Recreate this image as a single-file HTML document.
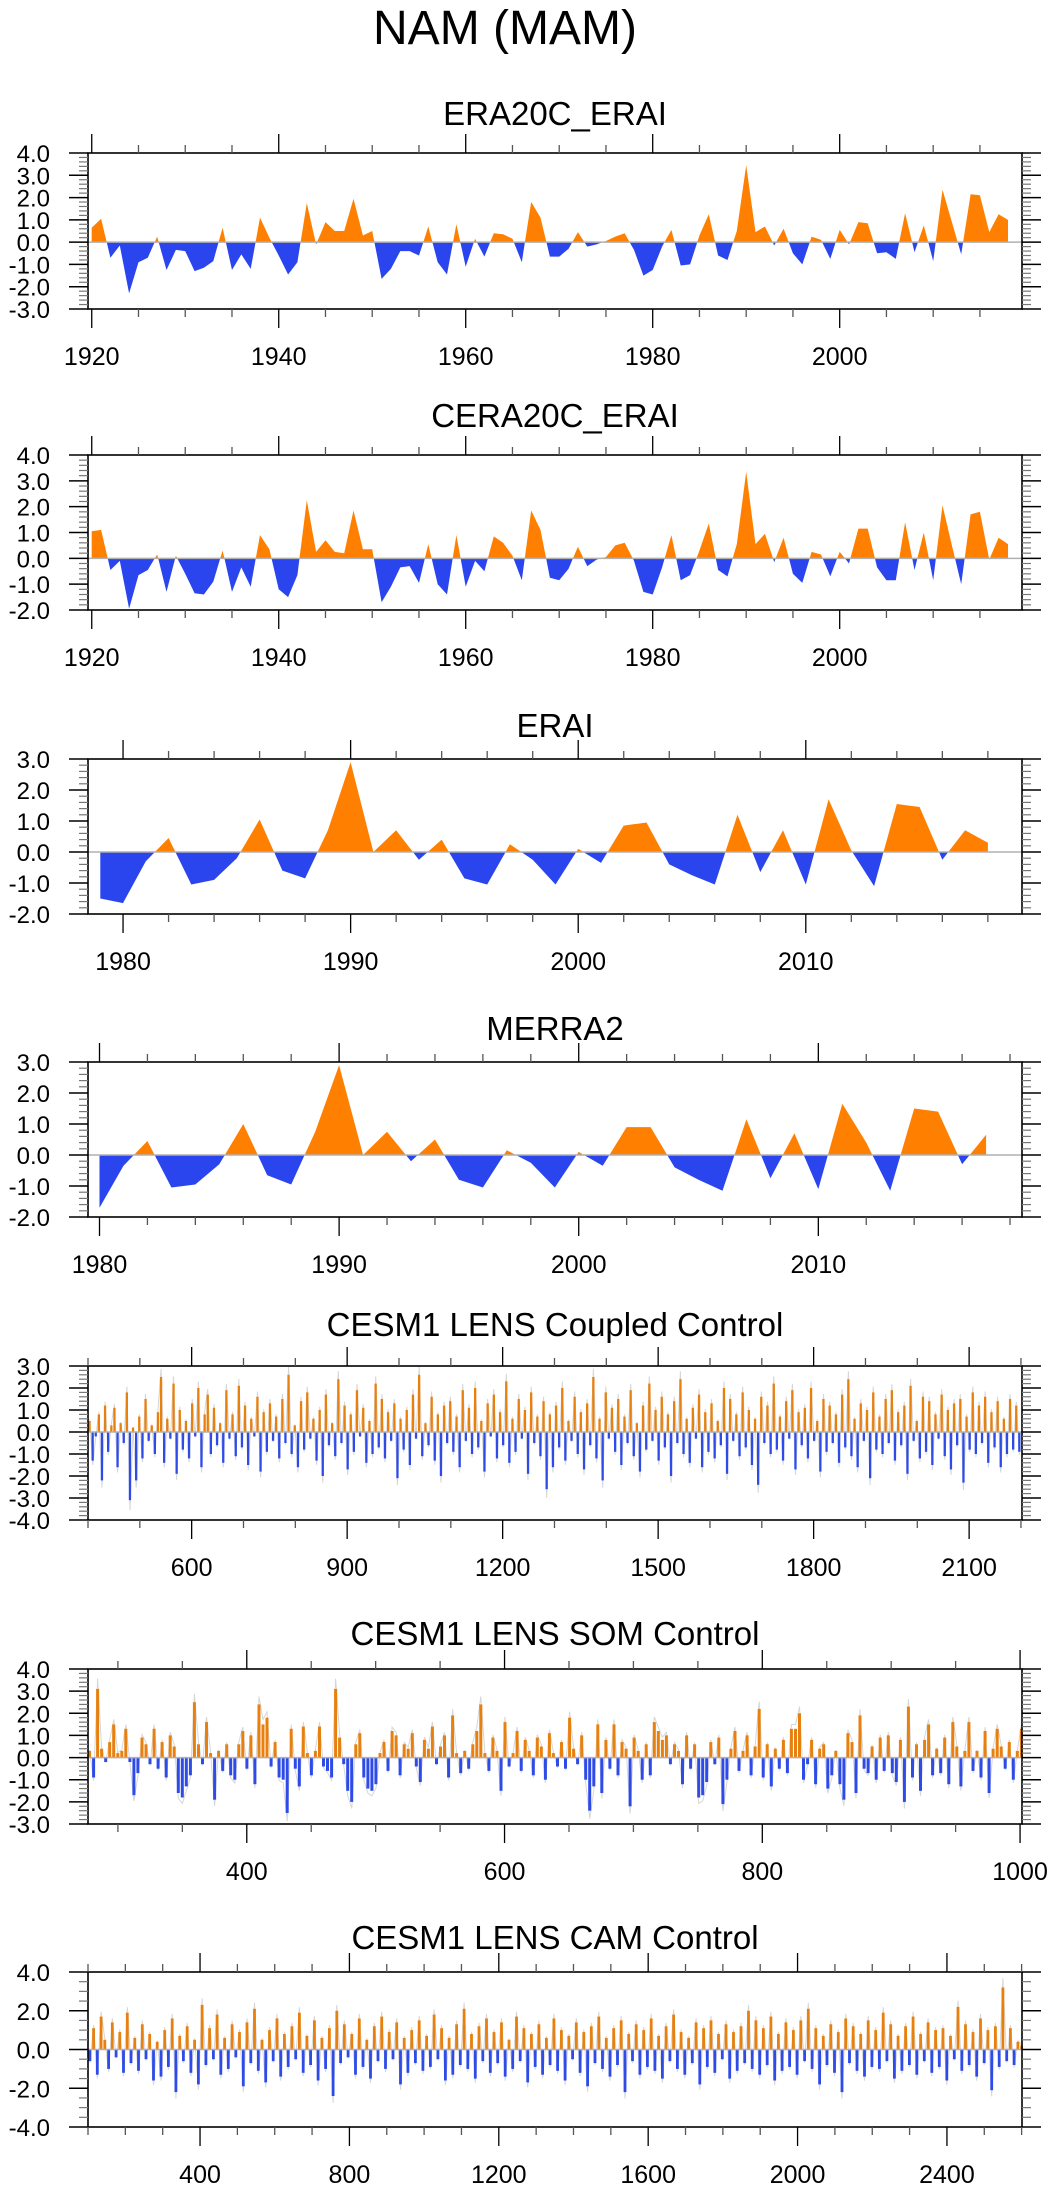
<!DOCTYPE html>
<html><head><meta charset="utf-8"><style>
html,body{margin:0;padding:0;background:#fff;}
svg{display:block;font-family:"Liberation Sans",sans-serif;}
</style></head><body>
<svg id="chart" width="1049" height="2191" viewBox="0 0 1049 2191" xmlns="http://www.w3.org/2000/svg">
<text x="505" y="44" font-size="48" text-anchor="middle">NAM (MAM)</text>
</svg>
<script>
// ---- data ----
const years1 = Array.from({length:99},(_, i)=>1920+i);
const era20cErai = [0.65,1.05,-0.7,-0.15,-2.3,-0.9,-0.7,0.25,-1.25,-0.35,-0.4,-1.3,-1.15,-0.85,0.65,-1.25,-0.55,-1.2,1.1,0.2,-0.6,-1.45,-0.9,1.75,-0.1,0.9,0.5,0.5,1.95,0.3,0.5,-1.65,-1.2,-0.4,-0.4,-0.6,0.7,-0.9,-1.45,0.8,-1.1,0.15,-0.65,0.4,0.35,0.15,-0.9,1.8,1.1,-0.65,-0.65,-0.3,0.45,-0.2,-0.1,0.05,0.25,0.4,-0.35,-1.5,-1.25,-0.2,0.55,-1.05,-1.0,0.3,1.25,-0.6,-0.8,0.5,3.45,0.45,0.7,-0.15,0.6,-0.5,-1.0,0.25,0.1,-0.75,0.55,-0.1,0.9,0.85,-0.5,-0.45,-0.75,1.3,-0.45,0.75,-0.85,2.35,0.9,-0.55,2.15,2.1,0.45,1.25,1.0];
const cera20cErai = [1.05,1.1,-0.45,-0.1,-1.95,-0.65,-0.45,0.15,-1.3,0.1,-0.6,-1.35,-1.4,-0.9,0.3,-1.3,-0.35,-1.1,0.9,0.35,-1.2,-1.5,-0.65,2.25,0.25,0.7,0.25,0.2,1.85,0.35,0.35,-1.7,-1.1,-0.35,-0.3,-0.95,0.55,-1.0,-1.4,0.9,-1.1,-0.1,-0.5,0.85,0.6,0.1,-0.85,1.85,1.1,-0.75,-0.85,-0.4,0.45,-0.3,-0.05,0.05,0.5,0.6,-0.1,-1.3,-1.4,-0.35,0.9,-0.85,-0.65,0.3,1.35,-0.45,-0.7,0.55,3.35,0.55,0.95,-0.15,0.8,-0.6,-0.95,0.25,0.15,-0.7,0.25,-0.2,1.15,1.15,-0.35,-0.85,-0.85,1.4,-0.45,1.0,-0.85,2.05,0.5,-1.0,1.7,1.8,-0.05,0.8,0.55];
const yearsErai = Array.from({length:40},(_, i)=>1979+i);
const erai = [-1.5,-1.65,-0.3,0.45,-1.05,-0.9,-0.2,1.05,-0.6,-0.85,0.7,2.9,0.0,0.7,-0.25,0.4,-0.85,-1.05,0.25,-0.25,-1.05,0.1,-0.35,0.85,0.95,-0.4,-0.75,-1.05,1.2,-0.65,0.7,-1.05,1.7,0.05,-1.1,1.55,1.45,-0.25,0.7,0.3];
const yearsMerra = Array.from({length:38},(_, i)=>1980+i);
const merra2 = [-1.7,-0.35,0.45,-1.05,-0.95,-0.3,1.0,-0.65,-0.95,0.75,2.9,0.0,0.75,-0.2,0.5,-0.8,-1.05,0.15,-0.25,-1.05,0.1,-0.35,0.9,0.9,-0.4,-0.8,-1.15,1.15,-0.75,0.7,-1.1,1.65,0.4,-1.15,1.5,1.4,-0.3,0.65];
const coupled = [0.5,-1.3,-0.2,0.8,-2.2,1.2,-0.9,0.3,1.1,-1.6,0.4,-0.5,1.8,-3.1,0.2,-2.2,0.7,-1.2,1.5,-0.4,
0.3,-1.0,0.9,2.5,-1.4,0.6,-0.3,2.2,-1.9,1.0,-0.8,0.5,-1.2,1.3,-0.2,2.0,-1.6,0.8,1.7,-1.0,
1.1,-0.6,0.4,-1.4,1.9,-0.3,0.8,-1.1,2.1,-0.7,1.2,-1.5,0.6,-0.2,1.6,-1.8,0.9,-0.9,1.3,-0.4,
0.7,-1.2,1.5,-0.5,2.6,-1.0,0.3,-1.6,1.4,-0.8,1.8,-0.3,0.6,-1.3,1.0,-2.0,1.7,-0.6,0.4,-1.1,
2.4,-0.5,1.2,-1.7,0.8,-0.9,1.9,-0.2,1.1,-1.4,0.5,-1.0,2.2,-0.7,1.5,-1.2,0.9,-0.4,1.3,-2.1,
0.6,-0.8,1.0,-1.5,1.7,-0.3,2.6,-1.1,0.4,-0.6,1.6,-1.3,0.8,-2.0,1.2,-0.5,1.4,-0.9,0.7,-1.6,
1.9,-0.4,1.1,-1.0,2.0,-0.7,0.5,-1.8,1.3,-0.2,1.7,-1.2,0.9,-0.6,2.3,-1.4,0.6,-0.9,1.5,-0.3,
1.0,-1.9,1.8,-0.5,0.7,-1.1,1.4,-2.6,0.8,-1.6,1.2,-0.7,2.0,-1.3,0.5,-0.4,1.6,-1.0,0.9,-1.7,
1.3,-0.6,2.5,-1.2,0.6,-2.2,1.8,-0.3,1.1,-0.9,1.5,-1.5,0.7,-0.5,1.9,-1.1,0.4,-1.8,1.2,-0.8,
2.2,-0.4,1.0,-1.3,1.6,-0.7,0.8,-2.0,1.4,-0.5,2.4,-1.0,0.6,-1.4,1.1,-0.3,1.7,-1.6,0.9,-0.9,
1.3,-1.2,0.5,-0.6,2.0,-1.9,1.5,-0.4,0.8,-1.1,1.8,-0.7,1.0,-1.5,0.6,-2.4,1.6,-0.5,1.2,-1.0,
2.2,-0.8,0.7,-1.3,1.4,-0.3,1.9,-1.7,0.9,-0.6,1.1,-1.2,2.0,-0.4,0.5,-1.8,1.5,-0.9,1.2,-0.5,
0.8,-1.4,1.7,-0.7,2.4,-1.1,0.6,-1.6,1.3,-0.4,1.0,-2.1,1.8,-0.8,0.7,-1.0,1.5,-0.5,1.9,-1.3,
0.9,-0.6,1.2,-1.9,2.1,-0.4,0.5,-1.2,1.6,-0.9,1.4,-1.5,0.8,-0.3,1.7,-1.1,1.0,-1.7,1.3,-0.6,
1.5,-2.3,0.7,-0.8,1.8,-1.0,1.2,-0.5,1.6,-1.4,0.9,-0.7,1.4,-1.6,0.6,-1.0,1.5,-0.8,1.2,-0.9];
const yearsCoupled = coupled.map((_, i)=>403+i*6);
const som = [0.3,-0.9,3.1,0.4,-0.2,0.7,1.5,0.2,0.3,1.3,-0.2,-1.7,-0.7,0.9,0.6,-0.3,1.3,-0.5,0.7,-0.9,
1.0,0.5,-1.6,-1.8,-1.3,-0.8,2.5,0.6,-0.3,1.6,0.2,-1.9,0.3,-0.6,0.6,-0.8,-1.0,0.6,1.2,-0.5,
1.0,-1.2,2.4,1.5,1.8,-0.4,0.7,-0.9,-1.0,-2.5,1.3,-0.5,-1.3,1.4,0.2,-0.8,0.3,1.4,-0.4,-0.6,
-0.9,3.1,0.9,-0.3,-1.5,-2.0,0.6,1.1,-0.9,-1.4,-1.5,-1.2,0.2,0.7,-0.6,1.2,1.0,-0.8,0.6,0.4,
1.1,-0.4,-1.1,0.8,0.4,1.4,-0.3,0.5,1.0,-0.9,1.9,0.2,-0.7,0.3,-0.5,0.6,1.2,2.4,0.2,-0.6,
0.9,0.3,-1.5,1.6,-0.4,0.2,1.2,-0.6,0.8,0.3,-0.8,0.9,0.5,-1.0,1.1,0.2,-0.4,0.7,-0.5,1.8,
0.4,-0.3,1.0,-1.0,-2.4,-1.3,1.5,-1.6,0.8,-0.5,1.5,-0.8,0.7,0.4,-2.2,0.9,0.3,-1.0,0.6,-0.8,
1.6,1.2,0.8,1.0,-0.3,0.6,0.3,-1.2,1.0,-0.5,0.6,-1.8,-1.7,-1.1,0.7,-0.3,0.9,-2.1,-1.0,0.4,
1.2,-0.6,0.3,1.0,-0.8,0.5,2.2,-0.9,0.6,-1.3,0.4,-0.5,0.8,-0.7,1.3,1.3,2.0,-1.0,-0.3,0.8,
-1.2,0.4,0.6,-1.4,-0.8,0.3,-1.2,-1.9,1.1,0.7,-1.6,1.9,-0.5,-0.7,0.5,-1.0,0.9,-0.6,1.0,-0.7,
-1.1,0.8,-2.0,2.3,-0.9,0.6,-1.5,0.8,1.5,-0.8,0.4,-0.7,0.9,-1.2,1.6,0.5,-1.3,0.3,1.6,-0.6,
0.3,-0.9,1.2,-1.6,0.4,1.3,0.5,-0.5,0.7,-1.0,0.3,1.3];
const yearsSom = som.map((_, i)=>278+i*3.13);
const cam = [-0.6,1.1,-1.3,1.7,0.5,-1.0,1.4,-0.4,0.9,-1.2,1.9,-0.7,0.6,-1.1,1.3,-0.5,0.8,-1.6,0.4,-1.4,
1.0,-0.9,1.6,-2.2,0.7,-0.6,1.2,-1.2,0.5,-1.8,2.3,-0.8,1.1,-0.5,1.8,-1.3,0.6,-1.0,1.3,-0.4,
0.9,-1.9,1.4,-0.7,2.1,-1.1,0.5,-1.7,1.0,-0.6,1.6,-1.4,0.8,-0.9,1.2,-0.5,1.9,-1.2,0.7,-0.8,
1.5,-1.6,0.6,-1.0,1.1,-2.4,2.0,-0.7,1.3,-0.4,0.8,-1.3,1.6,-0.9,0.5,-1.5,1.2,-0.6,1.7,-1.0,
0.9,-0.5,1.4,-1.8,0.6,-1.2,1.0,-0.7,1.5,-1.1,0.7,-0.9,1.8,-0.5,1.1,-1.6,0.6,-1.3,1.3,-0.8,
2.1,-1.0,0.8,-1.5,1.2,-0.6,1.6,-1.2,0.9,-0.7,1.4,-1.4,0.5,-1.0,1.7,-0.6,1.1,-1.7,0.8,-0.9,
1.3,-1.3,0.6,-0.8,1.6,-1.1,1.0,-1.6,0.7,-0.5,1.4,-1.2,0.9,-1.9,1.2,-0.7,1.7,-1.0,0.6,-1.4,
1.1,-0.8,1.5,-2.2,0.8,-0.6,1.3,-1.3,1.0,-0.9,1.6,-1.1,0.7,-1.5,1.2,-0.6,1.8,-1.0,0.9,-1.3,
0.6,-0.7,1.4,-1.8,1.1,-0.9,1.5,-1.2,0.8,-0.5,1.3,-1.5,0.9,-1.1,1.2,-0.7,2.0,-1.0,1.5,-1.3,
1.1,-0.8,1.7,-1.6,0.8,-1.1,1.4,-0.9,1.0,-1.3,1.5,-0.6,2.1,-1.0,1.1,-1.8,0.7,-0.8,1.3,-1.2,
0.9,-2.2,1.6,-0.7,1.2,-1.1,0.8,-1.4,1.5,-0.9,1.0,-1.0,1.9,-0.6,1.3,-1.5,0.7,-1.1,1.2,-0.8,
1.7,-1.3,0.8,-0.6,1.4,-1.2,1.0,-0.9,1.1,-1.6,0.7,-0.5,2.2,-1.1,1.3,-0.8,0.9,-1.4,1.6,-0.7,
1.0,-2.1,1.2,-0.9,3.2,-0.6,1.1,-0.8,0.4,0.2];
const yearsCam = cam.map((_, i)=>105+i*(2495/(cam.length-1)));
// tick label arrays
const yTicksA = ["-4.0","-3.0","-2.0","-1.0","0.0","1.0","2.0","3.0","4.0"];
const xTicks1 = [1920,1940,1960,1980,2000];
const xTicksDec = [1980,1990,2000,2010];
const xTicksCoupled = [600,900,1200,1500,1800,2100];
const xTicksSom = [400,600,800,1000];
const xTicksCam = [400,800,1200,1600,2000,2400];

const NS = "http://www.w3.org/2000/svg";
const svg = document.getElementById('chart');
const L = 88, R = 1022;
const ORANGE = "#ff8000", BLUE = "#2a45ee";

function mk(tag, attrs, parent){
  const e = document.createElementNS(NS, tag);
  for (const k in attrs) e.setAttribute(k, attrs[k]);
  (parent||svg).appendChild(e);
  return e;
}

function panel(cfg){
  const g = mk('g', {});
  
  
  const X = v => L + (v - cfg.xmin) / (cfg.xmax - cfg.xmin) * (R - L);
  const Y = v => cfg.bottom - (v - cfg.ymin) / (cfg.ymax - cfg.ymin) * (cfg.bottom - cfg.top);
  const t = mk('text', {x:555, y:cfg.titleY, 'font-size':33, 'text-anchor':'middle'}, g);
  t.textContent = cfg.title;
  
  
  const y0 = Y(0);
  const xs = cfg.x, vs = cfg.v;
  if (cfg.type === 'area') {
    const pos = [], neg = [];
    for (let i = 0; i < xs.length; i++) {
      const x = X(xs[i]), v = vs[i];
      if (i > 0) {
        const pv = vs[i-1];
        if ((pv > 0 && v < 0) || (pv < 0 && v > 0)) {
          const xc = X(xs[i-1]) + (x - X(xs[i-1])) * (pv / (pv - v));
          pos.push([xc, y0]); neg.push([xc, y0]);
        }
      }
      pos.push([x, Y(Math.max(v, 0))]);
      neg.push([x, Y(Math.min(v, 0))]);
    }
    const close = (arr) => [[arr[0][0], y0], ...arr, [arr[arr.length-1][0], y0]].map(p => p[0].toFixed(1)+','+p[1].toFixed(1)).join(' ');
    const pp = mk('polygon', {points: close(pos), fill: ORANGE}, g);
    
    
    const np = mk('polygon', {points: close(neg), fill: BLUE}, g);
    
    
  } else {
    const line = mk('polyline', {points: xs.map((x, i) => X(x).toFixed(1) + ',' + Y(vs[i] * 1.15).toFixed(1)).join(' '), fill: 'none', stroke: '#d6d6d6', 'stroke-width': 1}, g);
    
    
    const w = Math.max(1.2, (X(xs[1]) - X(xs[0])) * 0.75);
    for (let i = 0; i < xs.length; i++) {
      const v = vs[i];
      const yv = Y(v);
      const b = mk('rect', {x: (X(xs[i]) - w/2).toFixed(1), y: Math.min(yv, y0).toFixed(1), width: w.toFixed(1), height: Math.abs(yv - y0).toFixed(1), fill: v >= 0 ? "#e8800f" : "#2e4be8"}, g);
      
      
    }
  }
  const zl = mk('line', {x1: L, x2: R, y1: y0, y2: y0, stroke: '#b0b0b0', 'stroke-width': 1.5}, g);
  
  
  const fr = mk('rect', {x: L, y: cfg.top, width: R - L, height: cfg.bottom - cfg.top, fill: 'none', stroke: '#000', 'stroke-width': 1.6}, g);
  
  
  for (let v = cfg.ymin; v <= cfg.ymax + 1e-6; v += cfg.yminor) {
    const major = Math.abs(v / cfg.ymajor - Math.round(v / cfg.ymajor)) < 1e-6;
    const len = major ? 19 : 9, y = Y(v);
    mk('line', {x1: L - len, x2: L, y1: y, y2: y, stroke: major ? '#000' : '#777', 'stroke-width': major ? 1.5 : 1.2}, g);
    mk('line', {x1: R, x2: R + len, y1: y, y2: y, stroke: major ? '#000' : '#777', 'stroke-width': major ? 1.5 : 1.2}, g);
  }
  cfg.yLabels.forEach(s => {
    const v = parseFloat(s);
    const tl = mk('text', {x: 50, y: Y(v) + 9, 'font-size': 24, 'text-anchor': 'end'}, g);
    tl.textContent = s;
    
    
  });
  const start = Math.ceil(cfg.xmin / cfg.xminor) * cfg.xminor;
  for (let v = start; v <= cfg.xmax + 1e-6; v += cfg.xminor) {
    const major = v % cfg.xmajor === 0;
    const len = major ? 19 : 8, x = X(v);
    mk('line', {x1: x, x2: x, y1: cfg.top - len, y2: cfg.top, stroke: major ? '#000' : '#555', 'stroke-width': 1.3}, g);
    mk('line', {x1: x, x2: x, y1: cfg.bottom, y2: cfg.bottom + len, stroke: major ? '#000' : '#555', 'stroke-width': 1.3}, g);
  }
  cfg.xLabels.forEach(v => {
    const tl = mk('text', {x: X(v), y: cfg.bottom + 56, 'font-size': 25, 'text-anchor': 'middle'}, g);
    tl.textContent = String(v);
    
    
  });
}

const ylab = (a, b, s) => yTicksA.filter(t => { const v = parseFloat(t); return v >= a && v <= b && Math.abs(v / s - Math.round(v / s)) < 1e-6; });

panel({name:'era20c-erai', title:'ERA20C_ERAI', titleY:125, top:153, bottom:309, ymin:-3, ymax:4, ymajor:1, yminor:0.2, xmin:1919.6, xmax:2019.5, xmajor:20, xminor:5, x:years1, v:era20cErai, type:'area', yLabels:ylab(-3,4,1), xLabels:xTicks1});
panel({name:'cera20c-erai', title:'CERA20C_ERAI', titleY:427, top:455, bottom:610, ymin:-2, ymax:4, ymajor:1, yminor:0.2, xmin:1919.6, xmax:2019.5, xmajor:20, xminor:5, x:years1, v:cera20cErai, type:'area', yLabels:ylab(-2,4,1), xLabels:xTicks1});
panel({name:'erai', title:'ERAI', titleY:737, top:759, bottom:914, ymin:-2, ymax:3, ymajor:1, yminor:0.2, xmin:1978.46, xmax:2019.5, xmajor:10, xminor:2, x:yearsErai, v:erai, type:'area', yLabels:ylab(-2,3,1), xLabels:xTicksDec});
panel({name:'merra2', title:'MERRA2', titleY:1040, top:1062, bottom:1217, ymin:-2, ymax:3, ymajor:1, yminor:0.2, xmin:1979.52, xmax:2018.5, xmajor:10, xminor:2, x:yearsMerra, v:merra2, type:'area', yLabels:ylab(-2,3,1), xLabels:xTicksDec});
panel({name:'coupled-control', title:'CESM1 LENS Coupled Control', titleY:1336, top:1366, bottom:1520, ymin:-4, ymax:3, ymajor:1, yminor:0.2, xmin:400, xmax:2202, xmajor:300, xminor:100, x:yearsCoupled, v:coupled, type:'bar', yLabels:ylab(-4,3,1), xLabels:xTicksCoupled});
panel({name:'som-control', title:'CESM1 LENS SOM Control', titleY:1645, top:1669, bottom:1824, ymin:-3, ymax:4, ymajor:1, yminor:0.2, xmin:276.8, xmax:1001.5, xmajor:200, xminor:50, x:yearsSom, v:som, type:'bar', yLabels:ylab(-3,4,1), xLabels:xTicksSom});
panel({name:'cam-control', title:'CESM1 LENS CAM Control', titleY:1949, top:1972, bottom:2127, ymin:-4, ymax:4, ymajor:2, yminor:0.5, xmin:100, xmax:2601, xmajor:400, xminor:100, x:yearsCam, v:cam, type:'bar', yLabels:["-4.0","-2.0","0.0","2.0","4.0"], xLabels:xTicksCam});
</script>
</body></html>
